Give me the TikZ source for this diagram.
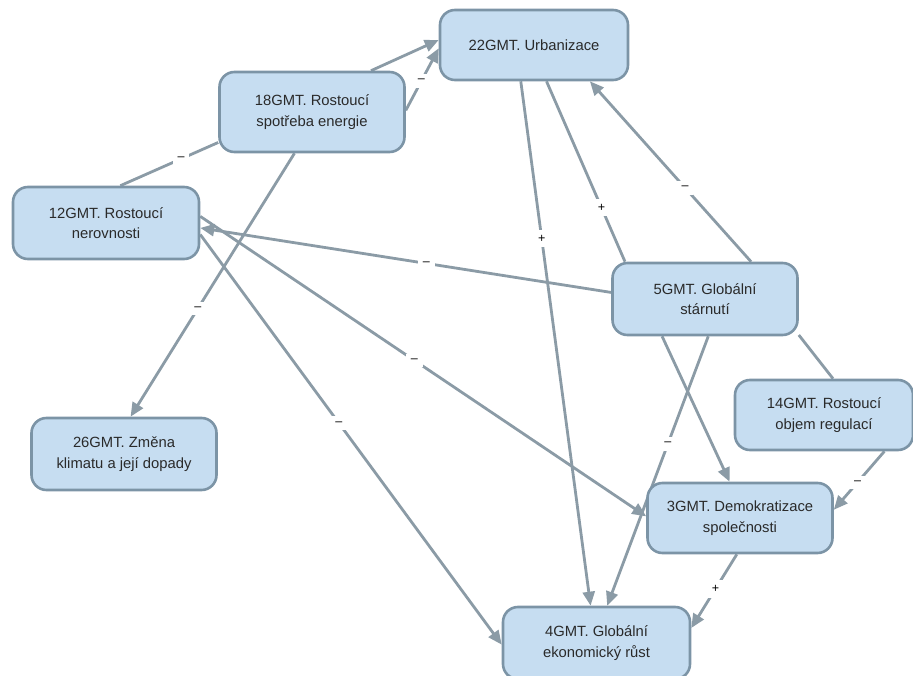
\documentclass[tikz,border=0pt]{standalone}
\usepackage{fontspec}
\setmainfont{Liberation Sans}
\usetikzlibrary{arrows.meta}
\definecolor{boxfill}{HTML}{C6DDF1}
\definecolor{boxline}{HTML}{7C94A6}
\definecolor{edgecol}{HTML}{8B9BA6}
\definecolor{txt}{HTML}{2A2A2A}
\pgfdeclarelayer{bg}
\pgfsetlayers{bg,main}
\begin{document}
\begin{tikzpicture}[x=1pt,y=-1pt,
  gmt/.style={draw=boxline, fill=boxfill, line width=2.6pt, rounded corners=15pt,
    align=center, font=\fontsize{14.8}{20.5}\selectfont, text=txt, inner sep=0pt},
  link/.style={draw=edgecol, line width=2.8pt},
  arr/.style={link, -{Triangle[length=14pt,width=12pt]}},
  lbl/.style={fill=white, font=\fontsize{12.5}{12.5}\selectfont, text=black, inner sep=5pt}]
\useasboundingbox (0,0) rectangle (913,676);

\node[gmt, minimum width=188pt, minimum height=70pt] (n22) at (534,45) {22GMT. Urbanizace};
\node[gmt, minimum width=185pt, minimum height=80pt] (n18) at (312,112) {18GMT. Rostoucí\\spotřeba energie};
\node[gmt, minimum width=186pt, minimum height=72pt] (n12) at (106,223) {12GMT. Rostoucí\\nerovnosti};
\node[gmt, minimum width=185pt, minimum height=72pt] (n5) at (705,299) {5GMT. Globální\\stárnutí};
\node[gmt, minimum width=178pt, minimum height=70pt] (n14) at (824,415) {14GMT. Rostoucí\\objem regulací};
\node[gmt, minimum width=185pt, minimum height=72pt] (n26) at (124,454) {26GMT. Změna\\klimatu a její dopady};
\node[gmt, minimum width=185pt, minimum height=70pt] (n3) at (740,518) {3GMT. Demokratizace\\společnosti};
\node[gmt, minimum width=187pt, minimum height=72pt] (n4) at (596.5,643) {4GMT. Globální\\ekonomický růst};

\begin{pgfonlayer}{bg}
\draw[link] (n12.69) -- node[lbl,pos=0.62]{–} (n18.198);
\draw[arr] (n18.35) -- (n22.177);
\draw[arr] (n18.1) -- node[lbl,pos=0.47]{–} (n22.182);
\draw[arr] (n18.247) -- node[lbl,pos=0.59]{–} (n26.80);
\draw[arr] (n22.250) -- node[lbl,pos=0.30]{+} (n4.99);
\draw[link] (n22.289) -- node[lbl,pos=0.70]{+} (n5.155);
\draw[arr] (n5.39) -- node[lbl,pos=0.41]{–} (n22.327);
\draw[arr] (n5.176) -- node[lbl,pos=0.45]{–} (n12.357);
\draw[arr] (n12.4) -- node[lbl,pos=0.48]{–} (n3.179);
\draw[arr] (n12.353) -- node[lbl,pos=0.46]{–} (n4.181);
\draw[arr] (n5.275) -- node[lbl,pos=0.40]{–} (n4.74);
\draw[arr] (n5.221) -- (n3.106);
\draw[link] (n5.339) -- (n14.76);
\draw[arr] (n14.329) -- node[lbl,pos=0.53]{–} (n3.5);
\draw[arr] (n3.265) -- node[lbl,pos=0.47]{+} (n4.9);
\end{pgfonlayer}
\end{tikzpicture}
\end{document}
